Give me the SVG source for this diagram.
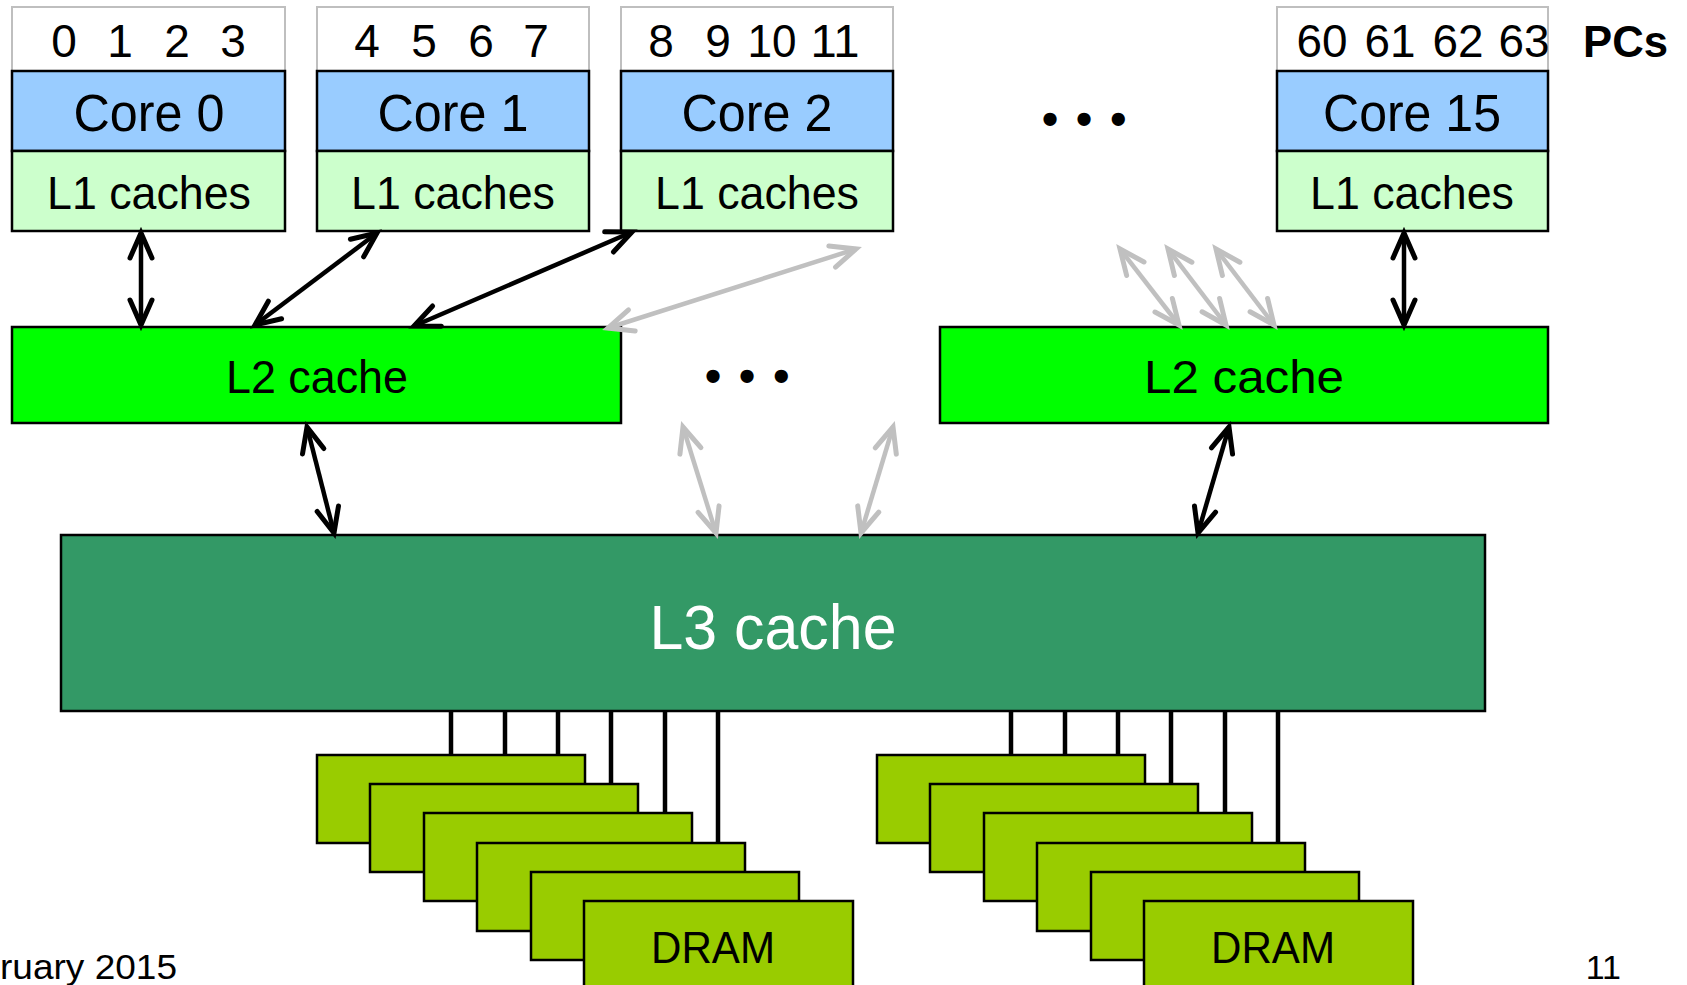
<svg xmlns="http://www.w3.org/2000/svg" width="1687" height="985" viewBox="0 0 1687 985">
<style>
text{font-family:"Liberation Sans",Arial,sans-serif;fill:#000}
.num{font-size:46px;text-anchor:middle}
.pcs{fill:#fff;stroke:#bfbfbf;stroke-width:2}
.core{fill:#99ccff;stroke:#000;stroke-width:2.5}
.l1{fill:#ccffcc;stroke:#000;stroke-width:2.5}
.l2{fill:#00ff00;stroke:#000;stroke-width:2.5}
.l3{fill:#339966;stroke:#000;stroke-width:2.5}
.dram{fill:#99cc00;stroke:#000;stroke-width:2.5}
.lbl{font-size:46px;text-anchor:middle}
.clbl{font-size:51px;text-anchor:middle}
.blk{stroke:#000;stroke-width:4.5;fill:none;marker-start:url(#ah);marker-end:url(#ah)}
.gry{stroke:#c0c0c0;stroke-width:4.5;fill:none;marker-start:url(#ahg);marker-end:url(#ahg)}
.bus{stroke:#000;stroke-width:4.5}
.dots{font-size:46px;font-weight:bold;letter-spacing:18px}
</style>
<defs>
<marker id="ah" markerUnits="userSpaceOnUse" markerWidth="40" markerHeight="40" refX="0" refY="0" orient="auto-start-reverse" overflow="visible">
<path d="M-25,-11 L0,0 L-25,11" fill="none" stroke="#000" stroke-width="5" stroke-linecap="round"/>
</marker>
<marker id="ahg" markerUnits="userSpaceOnUse" markerWidth="40" markerHeight="40" refX="0" refY="0" orient="auto-start-reverse" overflow="visible">
<path d="M-25,-11 L0,0 L-25,11" fill="none" stroke="#c0c0c0" stroke-width="5" stroke-linecap="round"/>
</marker>
</defs>
<rect width="1687" height="985" fill="#fff"/>

<g id="core0">
<rect class="pcs" x="12" y="7" width="273" height="64"/>
<text class="num" x="64" y="57">0</text><text class="num" x="120" y="57">1</text><text class="num" x="177" y="57">2</text><text class="num" x="233" y="57">3</text>
<rect class="core" x="12" y="71" width="273" height="80"/>
<text class="clbl" x="149" y="131" textLength="151" lengthAdjust="spacingAndGlyphs">Core 0</text>
<rect class="l1" x="12" y="151" width="273" height="80"/>
<text class="lbl" x="149" y="209" textLength="204" lengthAdjust="spacingAndGlyphs">L1 caches</text>
</g>
<g id="core1">
<rect class="pcs" x="317" y="7" width="272" height="64"/>
<text class="num" x="367" y="57">4</text><text class="num" x="424" y="57">5</text><text class="num" x="481" y="57">6</text><text class="num" x="536" y="57">7</text>
<rect class="core" x="317" y="71" width="272" height="80"/>
<text class="clbl" x="453" y="131" textLength="151" lengthAdjust="spacingAndGlyphs">Core 1</text>
<rect class="l1" x="317" y="151" width="272" height="80"/>
<text class="lbl" x="453" y="209" textLength="204" lengthAdjust="spacingAndGlyphs">L1 caches</text>
</g>
<g id="core2">
<rect class="pcs" x="621" y="7" width="272" height="64"/>
<text class="num" x="661" y="57">8</text><text class="num" x="718" y="57">9</text><text class="num" x="772" y="57" textLength="49" lengthAdjust="spacingAndGlyphs">10</text><text class="num" x="835" y="57" textLength="49" lengthAdjust="spacingAndGlyphs">11</text>
<rect class="core" x="621" y="71" width="272" height="80"/>
<text class="clbl" x="757" y="131" textLength="151" lengthAdjust="spacingAndGlyphs">Core 2</text>
<rect class="l1" x="621" y="151" width="272" height="80"/>
<text class="lbl" x="757" y="209" textLength="204" lengthAdjust="spacingAndGlyphs">L1 caches</text>
</g>
<g id="core15">
<rect class="pcs" x="1277" y="7" width="271" height="64"/>
<text class="num" x="1322" y="57" textLength="51" lengthAdjust="spacingAndGlyphs">60</text><text class="num" x="1390" y="57" textLength="51" lengthAdjust="spacingAndGlyphs">61</text><text class="num" x="1458" y="57" textLength="51" lengthAdjust="spacingAndGlyphs">62</text><text class="num" x="1524" y="57" textLength="51" lengthAdjust="spacingAndGlyphs">63</text>
<rect class="core" x="1277" y="71" width="271" height="80"/>
<text class="clbl" x="1412" y="131" textLength="178" lengthAdjust="spacingAndGlyphs">Core 15</text>
<rect class="l1" x="1277" y="151" width="271" height="80"/>
<text class="lbl" x="1412" y="209" textLength="204" lengthAdjust="spacingAndGlyphs">L1 caches</text>
</g>
<g id="pcs-label"><text x="1583" y="57" font-size="45" font-weight="bold" textLength="85" lengthAdjust="spacingAndGlyphs">PCs</text></g>
<g id="dots-top"><text class="dots" x="1042" y="135">•••</text></g>

<g id="l2-left">
<rect class="l2" x="12" y="327" width="609" height="96"/>
<text class="lbl" x="317" y="393" textLength="182" lengthAdjust="spacingAndGlyphs">L2 cache</text>
</g>
<g id="dots-mid"><text class="dots" x="705" y="392">•••</text></g>
<g id="l2-right">
<rect class="l2" x="940" y="327" width="608" height="96"/>
<text class="lbl" x="1244" y="393" textLength="200" lengthAdjust="spacingAndGlyphs">L2 cache</text>
</g>

<g id="l3">
<rect class="l3" x="61" y="535" width="1424" height="176"/>
<text x="773" y="649" font-size="63" text-anchor="middle" style="fill:#fff" textLength="247" lengthAdjust="spacingAndGlyphs">L3 cache</text>
</g>

<g id="connectors">
<line class="blk" x1="141" y1="233" x2="141" y2="325"/>
<line class="blk" x1="377" y1="233" x2="255" y2="325"/>
<line class="blk" x1="632" y1="232" x2="414" y2="326"/>
<line class="gry" x1="856" y1="249" x2="608" y2="328"/>
<line class="gry" x1="1120" y1="249" x2="1179" y2="325"/>
<line class="gry" x1="1168" y1="249" x2="1226" y2="325"/>
<line class="gry" x1="1216" y1="249" x2="1274" y2="325"/>
<line class="blk" x1="1404" y1="233" x2="1404" y2="325"/>
<line class="blk" x1="307" y1="427" x2="334" y2="533"/>
<line class="gry" x1="683" y1="427" x2="716" y2="533"/>
<line class="gry" x1="893" y1="427" x2="861" y2="533"/>
<line class="blk" x1="1229" y1="427" x2="1198" y2="533"/>
<line class="bus" x1="451" y1="711" x2="451" y2="755"/>
<line class="bus" x1="505" y1="711" x2="505" y2="755"/>
<line class="bus" x1="558" y1="711" x2="558" y2="755"/>
<line class="bus" x1="611" y1="711" x2="611" y2="784"/>
<line class="bus" x1="665" y1="711" x2="665" y2="813"/>
<line class="bus" x1="718" y1="711" x2="718" y2="843"/>
<line class="bus" x1="1011" y1="711" x2="1011" y2="755"/>
<line class="bus" x1="1065" y1="711" x2="1065" y2="755"/>
<line class="bus" x1="1118" y1="711" x2="1118" y2="755"/>
<line class="bus" x1="1171" y1="711" x2="1171" y2="784"/>
<line class="bus" x1="1225" y1="711" x2="1225" y2="813"/>
<line class="bus" x1="1278" y1="711" x2="1278" y2="843"/>
</g>

<g id="dram-left">
<rect class="dram" x="317" y="755" width="268" height="88"/>
<rect class="dram" x="370" y="784" width="268" height="88"/>
<rect class="dram" x="424" y="813" width="268" height="88"/>
<rect class="dram" x="477" y="843" width="268" height="88"/>
<rect class="dram" x="531" y="872" width="268" height="88"/>
<rect class="dram" x="584" y="901" width="269" height="100"/>
<text x="713" y="963" font-size="45" text-anchor="middle" textLength="124" lengthAdjust="spacingAndGlyphs">DRAM</text>
</g>
<g id="dram-right">
<rect class="dram" x="877" y="755" width="268" height="88"/>
<rect class="dram" x="930" y="784" width="268" height="88"/>
<rect class="dram" x="984" y="813" width="268" height="88"/>
<rect class="dram" x="1037" y="843" width="268" height="88"/>
<rect class="dram" x="1091" y="872" width="268" height="88"/>
<rect class="dram" x="1144" y="901" width="269" height="100"/>
<text x="1273" y="963" font-size="45" text-anchor="middle" textLength="124" lengthAdjust="spacingAndGlyphs">DRAM</text>
</g>

<g id="footer">
<text x="0" y="979" font-size="35" textLength="177" lengthAdjust="spacingAndGlyphs">ruary 2015</text>
<text x="1621" y="979" font-size="34" text-anchor="end">11</text>
</g>
</svg>
